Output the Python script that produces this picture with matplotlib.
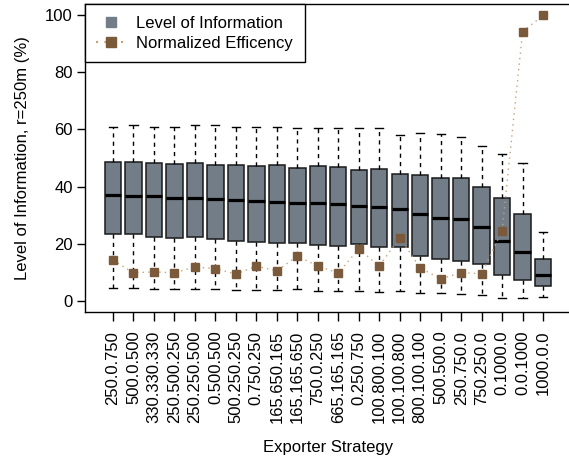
import matplotlib
matplotlib.use("Agg")
import matplotlib.pyplot as plt
from matplotlib.lines import Line2D

plt.rcParams['font.family'] = ['Liberation Sans', 'DejaVu Sans']
plt.rcParams['font.size'] = 12

# exporter strategies (x axis)
strategies = ["250.0.750", "500.0.500", "330.330.330", "250.500.250", "250.250.500",
              "0.500.500", "500.250.250", "0.750.250", "165.650.165", "165.165.650",
              "750.0.250", "665.165.165", "0.250.750", "100.800.100", "100.100.800",
              "800.100.100", "500.500.0", "250.750.0", "750.250.0", "0.1000.0",
              "0.0.1000", "1000.0.0"]

# level of information boxplot stats (%)
whisk_hi = [60.8, 61.6, 61.0, 61.0, 61.6, 61.5, 60.8, 60.8, 60.8, 60.6,
            60.4, 60.4, 60.4, 60.4, 58.1, 58.7, 58.3, 57.5, 54.2, 51.3, 48.1, 24.2]
q3 = [48.7, 48.5, 48.1, 48.0, 48.3, 47.5, 47.7, 47.3, 47.4, 46.6,
      47.2, 46.9, 45.7, 46.0, 44.3, 44.1, 43.0, 42.9, 39.9, 35.9, 30.4, 14.7]
med = [37.0, 36.7, 36.6, 36.1, 36.0, 35.6, 35.2, 34.8, 34.5, 34.3,
       34.1, 33.9, 33.2, 32.7, 32.1, 30.4, 29.1, 28.7, 25.9, 21.0, 17.0, 9.0]
q1 = [23.4, 23.4, 22.4, 22.1, 22.2, 21.7, 21.0, 20.7, 20.1, 20.3,
      19.5, 19.1, 19.8, 18.9, 18.7, 15.6, 14.6, 14.0, 12.7, 9.0, 7.2, 5.0]
whisk_lo = [4.5, 4.3, 4.2, 4.0, 4.1, 3.9, 3.7, 3.6, 3.6, 3.9,
            3.4, 3.2, 3.2, 3.0, 3.2, 2.6, 2.5, 2.3, 2.0, 1.0, 1.0, 1.2]

# normalized efficiency (%)
efficiency = [14.2, 9.7, 10.1, 9.7, 11.8, 11.2, 9.3, 12.1, 10.4, 15.6,
              12.1, 9.7, 18.1, 12.1, 22.0, 11.5, 7.6, 9.8, 9.4, 24.5, 94.3, 100.0]

box_color = '#737d87'
eff_color = '#7a5a3a'
dot_color = '#c9a27c'

fig = plt.figure(figsize=(5.69, 4.62), dpi=100)
ax = fig.add_axes([0.1489, 0.3247, 0.8552, 0.6667])

stats = []
for i in range(len(strategies)):
    stats.append(dict(whislo=whisk_lo[i], q1=q1[i], med=med[i], q3=q3[i],
                      whishi=whisk_hi[i], fliers=[]))
pos = list(range(1, len(strategies) + 1))
ax.bxp(stats, positions=pos, widths=0.8, capwidths=0.4, patch_artist=True,
       showfliers=False,
       boxprops=dict(facecolor=box_color, edgecolor='#1a1a1a', linewidth=1.1),
       medianprops=dict(color='black', linewidth=2.3, solid_capstyle='butt'),
       whiskerprops=dict(color='black', linewidth=1.0, linestyle=(0, (3, 3))),
       capprops=dict(color='black', linewidth=1.0))

ax.plot(pos, efficiency, linestyle=(0, (1, 3)), color=dot_color, linewidth=1.0, zorder=3)
ax.plot(pos, efficiency, linestyle='none', marker='s', markersize=6,
        color=eff_color, zorder=4)

ax.set_xlim(-0.38, 23.38)
ax.set_ylim(-4, 104)
ax.set_yticks([0, 20, 40, 60, 80, 100])
ax.set_xticks(pos)
ax.set_xticklabels(strategies, rotation=90)
ax.tick_params(axis='y', direction='out', length=5.5, width=1, pad=3)
ax.tick_params(axis='x', direction='out', length=6.5, width=1, pad=7)
ax.spines['right'].set_visible(False)
for s in ['left', 'top', 'bottom']:
    ax.spines[s].set_linewidth(1.0)

ax.set_ylabel('Level of Information, r=250m (%)', labelpad=11)
ax.set_xlabel('Exporter Strategy', labelpad=12)

handles = [Line2D([], [], linestyle='none', marker='s', markersize=7, color=box_color),
           Line2D([], [], linestyle=(0, (1, 3)), color=dot_color, marker='s',
                  markersize=7, markerfacecolor=eff_color, markeredgecolor=eff_color)]
leg = ax.legend(handles, ['Level of Information', 'Normalized Efficency'],
                loc='upper left', borderaxespad=0, fancybox=False, framealpha=1,
                edgecolor='black', handlelength=1.8, handletextpad=0.6,
                borderpad=0.7, labelspacing=0.3)
leg.get_frame().set_linewidth(1.0)

fig.savefig('out.png', dpi=100)
